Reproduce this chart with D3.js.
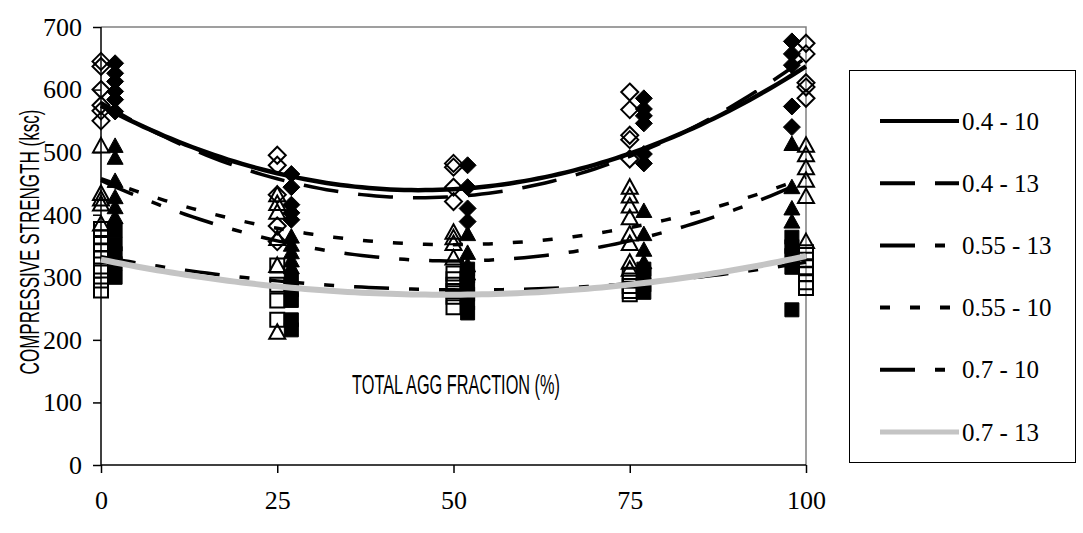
<!DOCTYPE html>
<html>
<head>
<meta charset="utf-8">
<script src="https://cdnjs.cloudflare.com/ajax/libs/d3/7.8.5/d3.min.js"></script>
<style>
  body { margin: 0; background: #fff; }
  svg { display: block; }
</style>
</head>
<body>
<div id="chart"></div>
<script>
////////////////////
//     DATA      ///
////////////////////

// x positions: hollow markers sit on the tick, solid ones are nudged aside
var xOpen   = [0, 25, 50, 75, 100];
var xFilled = [2, 27, 52, 77, 98];
var xTicks  = [0, 25, 50, 75, 100];
var yTicks  = [0, 100, 200, 300, 400, 500, 600, 700];

var seriesNames = ["0.4 - 10", "0.4 - 13", "0.55 - 13", "0.55 - 10", "0.7 - 10", "0.7 - 13"];

// strength readings (ksc), one list per x group
var pts04_10  = [[645, 637, 600, 575, 566, 550], [495, 479, 432, 382, 357], [482, 476, 444, 421], [596, 568, 527, 520, 489], [674, 657, 611, 604, 586]];
var pts04_13  = [[642, 626, 613, 597, 584, 565], [465, 444, 416, 403, 392], [479, 444, 410, 389], [586, 569, 558, 546, 497, 482], [677, 657, 639, 573, 540]];
var pts055_13 = [[510, 434, 425, 417, 385], [432, 418, 404, 362, 319, 212], [372, 363, 354, 331], [444, 430, 414, 395, 369, 354, 324, 313], [511, 496, 475, 455, 429, 357]];
var pts055_10 = [[510, 491, 454, 428, 412, 396], [365, 352, 340, 327, 316], [369, 339, 319, 306], [406, 369, 344, 324], [513, 444, 410, 389]];
var pts07_10  = [[375, 353, 338, 322, 300], [296, 280, 263, 232, 216], [313, 302, 288, 273, 259, 243], [313, 302, 288, 276], [364, 349, 335, 316, 248]];
var pts07_13  = [[377, 364, 353, 343, 330, 311, 295, 279], [319, 288, 263, 232], [306, 297, 288, 278, 269, 252], [304, 295, 286, 278, 273], [340, 328, 316, 305, 292, 283]];

// trendline readings at 0, 25, 50, 75, 100
var trendX      = [0, 25, 50, 75, 100];
var trend04_10  = [575, 465, 440, 500, 636];
var trend04_13  = [580, 456, 428, 496, 650];
var trend055_13 = [455, 358, 325, 360, 454];
var trend055_10 = [458, 378, 352, 380, 460];
var trend07_10  = [333, 294, 280, 290, 324];
var trend07_13  = [328, 286, 272, 288, 334];

////////////////////
//    OPTIONS    ///
////////////////////

var W = 1083, H = 533;
var plot = {left: 101, right: 806, top: 27, bottom: 465};
var serif = "'Liberation Serif', 'Times New Roman', serif";
var sans = "'Liberation Sans', Arial, sans-serif";

var series = [
  {name: seriesNames[0], pts: pts04_10,  xs: xOpen,   shape: "diamond",  filled: false, trend: trend04_10,  dash: null,          color: "#000",    width: 4.5},
  {name: seriesNames[1], pts: pts04_13,  xs: xFilled, shape: "diamond",  filled: true,  trend: trend04_13,  dash: "35,20",       color: "#000",    width: 3.5},
  {name: seriesNames[2], pts: pts055_13, xs: xOpen,   shape: "triangle", filled: false, trend: trend055_13, dash: "35,20,10,20", color: "#000",    width: 3.5},
  {name: seriesNames[3], pts: pts055_10, xs: xFilled, shape: "triangle", filled: true,  trend: trend055_10, dash: "10,20",       color: "#000",    width: 3.5},
  {name: seriesNames[4], pts: pts07_10,  xs: xFilled, shape: "square",   filled: true,  trend: trend07_10,  dash: "35,20,10,20", color: "#000",    width: 3.5},
  {name: seriesNames[5], pts: pts07_13,  xs: xOpen,   shape: "square",   filled: false, trend: trend07_13,  dash: null,          color: "#c4c4c4", width: 6}
];

var x = d3.scaleLinear().domain([0, 100]).range([plot.left, plot.right]);
var y = d3.scaleLinear().domain([0, 700]).range([plot.bottom, plot.top]);

var svg = d3.select("#chart").append("svg")
    .attr("width", W)
    .attr("height", H)
    .style("background", "#fff");

//marker outlines
function markerPath(shape) {
  if (shape == "diamond")  return "M0,-8.5L8.5,0L0,8.5L-8.5,0Z";
  if (shape == "triangle") return "M0,-8L8,6.5L-8,6.5Z";
  return "M-7,-7L7,-7L7,7L-7,7Z";
}

//least squares quadratic through the trend readings (excel poly trendline)
function quadFit(xs, ys) {
  var s = [0, 0, 0, 0, 0], t = [0, 0, 0];
  xs.forEach(function(xv, i) {
    for (var k = 0; k < 5; k++) s[k] += Math.pow(xv, k);
    for (var k = 0; k < 3; k++) t[k] += ys[i] * Math.pow(xv, k);
  });
  var m = [[s[0], s[1], s[2]], [s[1], s[2], s[3]], [s[2], s[3], s[4]]];
  function det(a) {
    return a[0][0]*(a[1][1]*a[2][2]-a[1][2]*a[2][1]) - a[0][1]*(a[1][0]*a[2][2]-a[1][2]*a[2][0]) + a[0][2]*(a[1][0]*a[2][1]-a[1][1]*a[2][0]);
  }
  var d = det(m);
  return [0, 1, 2].map(function(c) {
    var mc = m.map(function(row, r) { return row.map(function(v, j) { return j == c ? t[r] : v; }); });
    return det(mc) / d;
  });
}

//squeezed title: scale the glyph run down to a set length
function squeezedText(cx, cy, angle, len, str) {
  var g = svg.append("g").attr("transform", "translate(" + cx + "," + cy + ") rotate(" + angle + ")");
  var t = g.append("text")
      .attr("text-anchor", "middle")
      .attr("dominant-baseline", "central")
      .style("font-family", sans)
      .style("font-size", "28px")
      .text(str);
  var natural = t.node().getComputedTextLength();
  t.attr("transform", "scale(" + (len / natural) + ",1)");
  return t;
}

////////////////////
//     AXES      ///
////////////////////

// grey frame on top / right
svg.append("path")
    .attr("d", "M" + plot.left + "," + plot.top + "H" + plot.right + "V" + plot.bottom)
    .attr("fill", "none")
    .attr("stroke", "#808080")
    .attr("stroke-width", 1.5);

var yAxis = svg.append("g")
    .attr("transform", "translate(" + plot.left + ",0)")
    .call(d3.axisLeft(y).tickValues(yTicks).tickSize(8).tickPadding(11).tickFormat(d3.format("d")));
var xAxis = svg.append("g")
    .attr("transform", "translate(0," + plot.bottom + ")")
    .call(d3.axisBottom(x).tickValues(xTicks).tickSize(8).tickFormat(d3.format("d")));

[yAxis, xAxis].forEach(function(ax) {
  ax.select(".domain").attr("stroke", "#000").attr("stroke-width", 1.5);
  ax.selectAll(".tick line").attr("stroke", "#000").attr("stroke-width", 1.5);
  ax.selectAll(".tick text").attr("fill", "#000").style("font-family", serif).style("font-size", "26px");
});
xAxis.selectAll(".tick text").attr("y", 35).attr("dy", null).attr("dominant-baseline", "central");
xAxis.select(".domain").attr("d", "M" + plot.left + ",0H" + plot.right);
yAxis.select(".domain").attr("d", "M0," + plot.top + "V" + plot.bottom);

// axis titles
squeezedText(29, 242, -90, 265, "COMPRESSIVE STRENGTH (ksc)");
squeezedText(456, 384, 0, 208, "TOTAL AGG FRACTION (%)");

////////////////////
//    MARKERS    ///
////////////////////

series.forEach(function(s) {
  var flat = [];
  s.pts.forEach(function(group, gi) {
    group.forEach(function(v) { flat.push({x: s.xs[gi], v: v}); });
  });
  svg.append("g").selectAll("path")
      .data(flat)
    .enter().append("path")
      .attr("d", markerPath(s.shape))
      .attr("transform", function(d) { return "translate(" + x(d.x) + "," + y(d.v) + ")"; })
      .attr("fill", s.filled ? "#000" : "none")
      .attr("stroke", "#000")
      .attr("stroke-width", s.filled ? 1 : 2);
});

////////////////////
//  TRENDLINES   ///
////////////////////

var line = d3.line()
    .x(function(d) { return x(d[0]); })
    .y(function(d) { return y(d[1]); });

series.forEach(function(s) {
  var c = quadFit(trendX, s.trend);
  var curve = d3.range(0, 100.5, 1).map(function(xv) { return [xv, c[0] + c[1]*xv + c[2]*xv*xv]; });
  svg.append("path")
      .attr("d", line(curve))
      .attr("fill", "none")
      .attr("stroke", s.color)
      .attr("stroke-width", s.width)
      .attr("stroke-dasharray", s.dash);
});

////////////////////
//    LEGEND     ///
////////////////////

var legend = svg.append("g");
legend.append("rect")
    .attr("x", 849.5)
    .attr("y", 70.5)
    .attr("width", 226)
    .attr("height", 392)
    .attr("fill", "#fff")
    .attr("stroke", "#000")
    .attr("stroke-width", 1);

var rows = legend.selectAll("g.row")
    .data(series)
  .enter().append("g")
    .attr("class", "row")
    .attr("transform", function(d, i) { return "translate(0," + (121 + i * 62.2) + ")"; });

rows.append("line")
    .attr("x1", 880).attr("x2", 959)
    .attr("y1", 0).attr("y2", 0)
    .attr("stroke", function(d) { return d.color; })
    .attr("stroke-width", function(d) { return d.color == "#000" ? 4 : 5; })
    .attr("stroke-dasharray", function(d) { return d.dash; });

rows.append("text")
    .attr("x", 962)
    .attr("y", 0)
    .attr("dominant-baseline", "central")
    .style("font-family", serif)
    .style("font-size", "25px")
    .text(function(d) { return d.name; });
</script>
</body>
</html>
